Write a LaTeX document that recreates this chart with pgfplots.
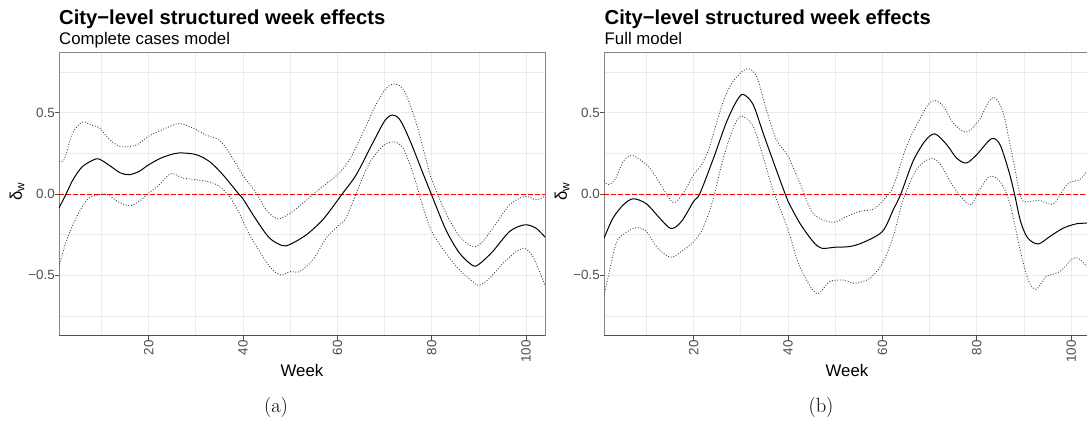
\documentclass[border=0pt]{standalone}
\usepackage{fontspec}
\setsansfont{Liberation Sans}
\usepackage{pgfplots}
\pgfplotsset{compat=1.18}
\definecolor{gridc}{HTML}{EBEBEB}
\definecolor{tickc}{HTML}{4D4D4D}
\definecolor{borderc}{HTML}{858585}
\definecolor{bottomc}{HTML}{505050}

\pgfplotstableread{
w v
1 -0.086
2.5 0.00
4 0.09
6 0.17
8.8 0.216
10 0.208
12 0.17
14 0.13
15.9 0.119
18 0.14
20 0.18
22.5 0.22
24.4 0.24
26.5 0.253
30 0.243
32.9 0.20
35.7 0.12
39.1 0.0
40 -0.03
42.8 -0.158
45.6 -0.27
48.3 -0.317
50 -0.309
53.4 -0.251
56.9 -0.158
60 -0.04
61 0.0
64 0.119
67.5 0.315
70 0.449
71.6 0.486
73.2 0.459
75.3 0.335
78.1 0.13
79.9 0.0
83 -0.22
85.9 -0.364
88.7 -0.44
90 -0.432
92.9 -0.354
96.5 -0.23
99.7 -0.189
102.1 -0.21
104 -0.265
}\amean

\pgfplotstableread{
w v
1 0.202
2.1 0.212
3.9 0.377
6 0.442
8.1 0.422
9.6 0.407
11.7 0.335
14.1 0.292
17.3 0.30
20 0.356
23 0.397
26.5 0.434
30 0.397
32.2 0.362
35 0.331
37.1 0.253
39.9 0.119
42.8 0.006
44.9 -0.097
47.4 -0.152
50 -0.117
53.4 -0.039
56.2 0.031
60 0.119
62.6 0.212
65.4 0.377
68.2 0.551
70.3 0.648
72.1 0.677
74.2 0.634
76.7 0.438
78.8 0.212
80 0.088
83 -0.117
85.9 -0.261
88.7 -0.323
90.8 -0.292
93.7 -0.179
96.5 -0.066
99.7 -0.014
102.1 -0.035
104 -0.014
}\aupper

\pgfplotstableread{
w v
1 -0.447
2.5 -0.292
4.6 -0.148
6.7 -0.045
8.1 -0.014
11 0.0
13.4 -0.045
15.9 -0.072
18 -0.045
20 0.006
22.3 0.058
24.7 0.126
27.2 0.099
30 0.088
32.9 0.074
35 0.047
37.1 -0.014
39.2 -0.117
41.4 -0.251
44.2 -0.385
46.3 -0.467
48.1 -0.498
50 -0.477
52 -0.477
54.8 -0.405
57.6 -0.272
60 -0.2
61.8 -0.148
64 0.006
66.8 0.191
69.6 0.294
71.9 0.321
73.9 0.284
76 0.13
78.1 -0.076
80 -0.23
83 -0.364
85.9 -0.467
88.7 -0.539
90 -0.562
92.2 -0.519
95.1 -0.426
97.9 -0.354
99.7 -0.335
101.4 -0.385
104 -0.56
}\alower

\pgfplotstableread{
w v
1 -0.272
2.9 -0.148
5.1 -0.066
7.2 -0.029
10 -0.06
12.8 -0.148
15.2 -0.212
17.4 -0.169
20 -0.045
21.3 0.002
24.1 0.212
26.9 0.438
29.1 0.572
30.5 0.613
32.6 0.551
34.7 0.377
37.5 0.15
39.4 0.0
40 -0.045
42.5 -0.179
45.3 -0.292
47.1 -0.333
50 -0.327
53 -0.323
55.9 -0.298
60 -0.23
62.3 -0.097
63.9 0.0
66.5 0.202
69 0.325
71.1 0.37
73.6 0.305
75.7 0.222
77.8 0.191
80 0.243
83.1 0.34
84.9 0.305
86.8 0.14
88 0.0
89.3 -0.17
90.8 -0.27
93 -0.307
95.5 -0.261
98.3 -0.21
101.1 -0.183
103.2 -0.179
104 -0.178
}\bmean

\pgfplotstableread{
w v
1 0.078
1.9 0.058
3.3 0.088
5.1 0.202
6.8 0.237
8.6 0.212
10.7 0.16
12.8 0.068
15.6 -0.051
17.8 0.006
20 0.119
21.7 0.181
23.4 0.294
26.2 0.562
28.4 0.695
31.2 0.77
33.3 0.726
35.4 0.52
37.5 0.335
40 0.233
42.5 0.068
45 -0.107
47.4 -0.158
49.9 -0.173
52.4 -0.138
55.2 -0.107
58 -0.093
60 -0.045
62.3 0.047
65.1 0.294
67.9 0.459
69.7 0.551
71.1 0.576
72.9 0.541
75 0.438
77.8 0.381
80.6 0.459
82.4 0.562
83.8 0.593
85.6 0.5
87.7 0.212
89.4 -0.025
91.2 -0.045
93.3 -0.039
96.2 -0.062
98.3 0.027
99.7 0.072
101.8 0.088
103.2 0.134
104 0.15
}\bupper

\pgfplotstableread{
w v
1 -0.621
1.9 -0.508
3.6 -0.302
5.4 -0.241
7.9 -0.206
10 -0.23
12.1 -0.323
15.1 -0.389
17.8 -0.344
20 -0.292
22 -0.21
24.1 -0.035
26.2 0.212
28.4 0.407
30.1 0.479
32.6 0.418
34.7 0.233
36.8 0.027
40 -0.22
42.5 -0.447
46 -0.611
48.8 -0.539
51.7 -0.529
54.1 -0.549
57.3 -0.519
60 -0.426
62.3 -0.261
64.4 -0.035
67.2 0.15
70 0.216
72.1 0.191
75 0.047
78.5 -0.066
80.6 0.027
82.7 0.109
84.9 0.078
87 -0.056
89.2 -0.344
90.9 -0.529
92.6 -0.586
94.7 -0.508
97.6 -0.477
100.4 -0.395
101.8 -0.401
103.2 -0.442
104 -0.46
}\blower

\pgfplotsset{
  ggpanel/.style={
    scale only axis, width=486pt, height=283.7pt,
    xmin=1, xmax=104, ymin=-0.873, ymax=0.872,
    xtick={20,40,60,80,100}, xticklabels={20,40,60,80,100},
    ytick={-0.5,0,0.5}, yticklabels={−0.5,0.0,0.5},
    minor xtick={10,30,50,70,90},
    minor ytick={-0.75,-0.25,0.25,0.75},
    grid=both,
    major grid style={draw=gridc, line width=1pt},
    minor grid style={draw=gridc, line width=0.7pt},
    axis line style={draw=borderc, line width=1pt},
    tick align=outside, xtick pos=left, ytick pos=left,
    major tick length=4pt, minor tick length=0pt,
    every tick/.style={draw=tickc, line width=0.9pt},
    /pgf/number format/assume math mode=true,
    tick label style={font=\sffamily\fontsize{13.4}{14}\selectfont, text=tickc},
    xticklabel style={rotate=90, anchor=east, inner sep=0pt},
    yticklabel style={anchor=east, inner sep=0pt},
    mean/.style={black, line width=1pt, smooth, tension=0.5},
    band/.style={black!75, line width=0.9pt, dash pattern=on 0.9pt off 1.8pt, smooth, tension=0.5},
    zero/.style={red, line width=1pt, dash pattern=on 4.5pt off 2.5pt},
  }
}

\begin{document}
\begin{tikzpicture}[x=1pt,y=1pt]
\begin{axis}[ggpanel, at={(59pt,86pt)}, anchor=south west]
\addplot[zero] coordinates {(1,0) (104,0)};
\addplot[band] table[x=w,y=v] {\aupper};
\addplot[band] table[x=w,y=v] {\alower};
\addplot[mean] table[x=w,y=v] {\amean};
\end{axis}
\draw[bottomc, line width=1pt] (59pt,86pt) -- (545pt,86pt);

\begin{axis}[ggpanel, at={(604pt,86pt)}, anchor=south west]
\addplot[zero] coordinates {(1,0) (104,0)};
\addplot[band] table[x=w,y=v] {\bupper};
\addplot[band] table[x=w,y=v] {\blower};
\addplot[mean] table[x=w,y=v] {\bmean};
\end{axis}
\draw[bottomc, line width=1pt] (604pt,86pt) -- (1090pt,86pt);

% titles
\node[anchor=base west, inner sep=0pt, font=\sffamily\bfseries\fontsize{20.2}{24}\selectfont] at (59,397.7) {City−level structured week effects};
\node[anchor=base west, inner sep=0pt, font=\sffamily\fontsize{16.8}{20}\selectfont] at (59,377) {Complete cases model};
\node[anchor=base west, inner sep=0pt, font=\sffamily\bfseries\fontsize{20.2}{24}\selectfont] at (604.5,397.7) {City−level structured week effects};
\node[anchor=base west, inner sep=0pt, font=\sffamily\fontsize{16.8}{20}\selectfont] at (604.5,377) {Full model};
% axis titles
\node[anchor=base, inner sep=0pt, font=\sffamily\fontsize{16.8}{20}\selectfont] at (302,45.3) {Week};
\node[anchor=base, inner sep=0pt, font=\sffamily\fontsize{16.8}{20}\selectfont] at (847,45.3) {Week};
\node[rotate=90, inner sep=0pt, font=\sffamily\fontsize{16.8}{20}\selectfont] at (17,230.5) {δ\textsubscript{w}};
\node[rotate=90, inner sep=0pt, font=\sffamily\fontsize{16.8}{20}\selectfont] at (562,230.5) {δ\textsubscript{w}};
% sub-captions
\node[anchor=base, inner sep=0pt, font=\rmfamily\fontsize{20.5}{24}\selectfont] at (276,9) {(a)};
\node[anchor=base, inner sep=0pt, font=\rmfamily\fontsize{20.5}{24}\selectfont] at (821,9) {(b)};

\pgfresetboundingbox
\path[use as bounding box] (0,0) rectangle (1087,422);
\end{tikzpicture}
\end{document}
